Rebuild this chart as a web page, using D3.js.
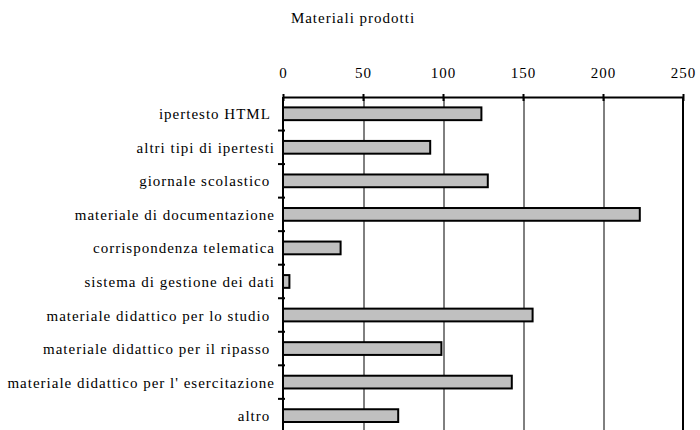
<!DOCTYPE html>
<html>
<head>
<meta charset="utf-8">
<script src="https://cdn.jsdelivr.net/npm/d3@7"></script>
<style>
  body { margin: 0; background: #fff; }
  svg { display: block; }
  text { font-family: 'Liberation Serif', 'DejaVu Serif', serif; font-size: 15px; letter-spacing: 1px; fill: #000; white-space: pre; }
</style>
</head>
<body>
<script>
// data (some source labels carry a trailing space)
const title = 'Materiali prodotti';
const categories = [
  'ipertesto HTML ',
  'altri tipi di ipertesti',
  'giornale scolastico ',
  'materiale di documentazione',
  'corrispondenza telematica',
  'sistema di gestione dei dati',
  'materiale didattico per lo studio ',
  'materiale didattico per il ripasso ',
  "materiale didattico per l' esercitazione",
  'altro '
];
const values = [124, 92, 128, 223, 36, 4, 156, 99, 143, 72];
const xTicks = [0, 50, 100, 150, 200, 250];

const width = 700, height = 430;
const plotTop = 97, step = 33.54;

const svg = d3.select('body').append('svg')
  .attr('width', width)
  .attr('height', height);

const x = d3.scaleLinear().domain([0, 250]).range([283, 683]);
const y = d3.scaleBand()
  .domain(categories)
  .range([plotTop, plotTop + step * categories.length])
  .paddingInner(0.62)
  .paddingOuter(0.31);

// title
svg.append('text')
  .attr('x', 353)
  .attr('y', 23)
  .attr('text-anchor', 'middle')
  .text(title);

// vertical gridlines
const grid = svg.append('g')
  .attr('transform', `translate(0.5,${plotTop})`)
  .call(d3.axisTop(x).tickValues(xTicks.slice(1, -1)).tickSize(-(height - plotTop + 10)).tickFormat(''));
grid.select('.domain').remove();
grid.selectAll('line').attr('stroke', '#000').attr('stroke-width', 1);

// bars
svg.append('g')
  .selectAll('rect')
  .data(values)
  .join('rect')
  .attr('x', x(0))
  .attr('y', (d, i) => y(categories[i]))
  .attr('width', d => x(d) - x(0))
  .attr('height', y.bandwidth())
  .attr('fill', '#c0c0c0')
  .attr('stroke', '#000')
  .attr('stroke-width', 2);

// right border
svg.append('line')
  .attr('x1', x(250)).attr('x2', x(250))
  .attr('y1', plotTop).attr('y2', height + 10)
  .attr('stroke', '#000').attr('stroke-width', 2);

// left axis with ticks between the bands
const gap = (y.step() - y.bandwidth()) / 2;
const left = svg.append('g');
left.append('line')
  .attr('x1', x(0)).attr('x2', x(0))
  .attr('y1', plotTop).attr('y2', height + 10)
  .attr('stroke', '#000').attr('stroke-width', 2);
left.selectAll('line.tick')
  .data(categories.slice(1))
  .join('line')
  .attr('class', 'tick')
  .attr('x1', x(0) - 5).attr('x2', x(0) + 2)
  .attr('y1', d => y(d) - gap).attr('y2', d => y(d) - gap)
  .attr('stroke', '#000').attr('stroke-width', 2);
left.selectAll('text')
  .data(categories)
  .join('text')
  .attr('x', 275)
  .attr('y', d => y(d) + y.bandwidth() / 2 + 5.5)
  .attr('text-anchor', 'end')
  .text(d => d);

// top axis
const xAxis = svg.append('g')
  .attr('transform', `translate(0,${plotTop})`)
  .call(d3.axisTop(x).tickValues(xTicks).tickSize(3).tickSizeOuter(0).tickPadding(16));
xAxis.attr('font-family', null).attr('font-size', null);
xAxis.select('.domain').attr('stroke-width', 2);
xAxis.selectAll('.tick line').attr('y1', 4).attr('stroke-width', 2);
xAxis.selectAll('.tick text').attr('fill', '#000');
</script>
</body>
</html>
